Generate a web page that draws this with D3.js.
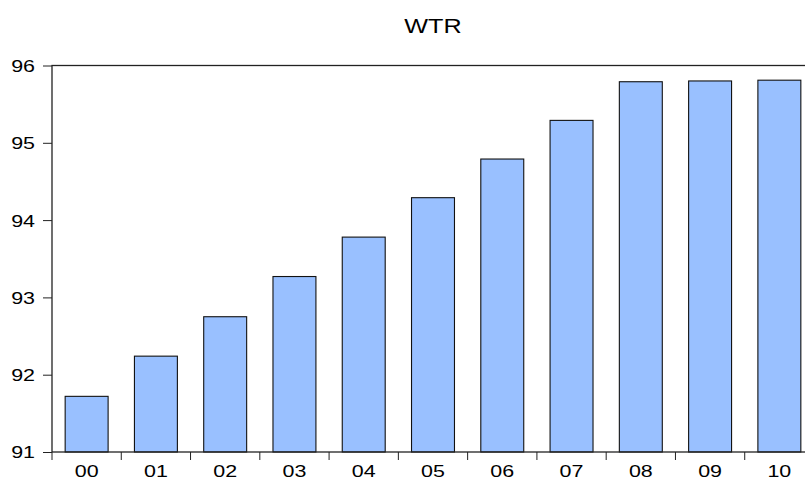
<!DOCTYPE html>
<html>
<head>
<meta charset="utf-8">
<script src="https://cdn.jsdelivr.net/npm/d3@7"></script>
<style>
  body { margin: 0; background: #fff; }
  text { font-family: "Liberation Sans", Arial, sans-serif; fill: #000; }
</style>
</head>
<body>
<div id="chart"></div>
<script>
// data
const years = ["00", "01", "02", "03", "04", "05", "06", "07", "08", "09", "10"];
const wtr = [91.72, 92.24, 92.75, 93.27, 93.78, 94.29, 94.79, 95.29, 95.79, 95.80, 95.81];
const yTicks = [91, 92, 93, 94, 95, 96];

const W = 805, H = 479;
const margin = {top: 65.5, right: -9, bottom: 27, left: 52};
const width = W - margin.left - margin.right,
      height = H - margin.top - margin.bottom;
const stretch = 1.3; // text in the picture is drawn wide

const svg = d3.select("#chart")
  .append("svg")
  .attr("width", W)
  .attr("height", H);

const g = svg.append("g")
  .attr("transform", `translate(${margin.left},${margin.top})`);

const pad = 0.38;
const x = d3.scaleBand()
  .domain(years)
  .range([0, width])
  .paddingInner(pad)
  .paddingOuter(pad / 2);

const y = d3.scaleLinear()
  .domain([91, 96])
  .range([height, 0]);

// bars
g.selectAll("rect.bar")
  .data(years)
  .enter()
  .append("rect")
  .attr("class", "bar")
  .attr("x", d => x(d))
  .attr("width", x.bandwidth())
  .attr("y", (d, i) => y(wtr[i]))
  .attr("height", (d, i) => height - y(wtr[i]))
  .attr("fill", "#99c0ff")
  .attr("stroke", "#111")
  .attr("stroke-width", 1.1);

// frame
g.append("rect")
  .attr("x", 0).attr("y", 0)
  .attr("width", width).attr("height", height)
  .attr("fill", "none")
  .attr("stroke", "#222")
  .attr("stroke-width", 1.3);

// left axis
const yAxis = g.append("g")
  .call(d3.axisLeft(y).tickValues(yTicks).tickFormat(d3.format("d")).tickSize(9).tickPadding(0));
yAxis.select(".domain").remove();
yAxis.selectAll("line").attr("stroke", "#222");
yAxis.selectAll("text")
  .attr("x", -17 / stretch)
  .attr("dy", "0.36em")
  .attr("transform", `scale(${stretch},1)`)
  .style("font-size", "16.5px")
  .style("font-family", "Liberation Sans, Arial, sans-serif");

// bottom labels
const xAxis = g.append("g")
  .attr("transform", `translate(0,${height})`)
  .call(d3.axisBottom(x).tickSize(0).tickPadding(13));
xAxis.select(".domain").remove();
xAxis.selectAll("text")
  .attr("transform", `scale(${stretch},1)`)
  .style("font-size", "16.5px")
  .style("font-family", "Liberation Sans, Arial, sans-serif");

// bottom ticks sit on the band boundaries
const step = x.step();
g.append("g")
  .selectAll("line")
  .data(years)
  .enter()
  .append("line")
  .attr("x1", d => x(d) - step * pad / 2)
  .attr("x2", d => x(d) - step * pad / 2)
  .attr("y1", height)
  .attr("y2", height + 8)
  .attr("stroke", "#222");

// title
svg.append("text")
  .attr("transform", `translate(${margin.left + width / 2},32.5) scale(1.2,1)`)
  .attr("text-anchor", "middle")
  .style("font-size", "21px")
  .text("WTR");
</script>
</body>
</html>
